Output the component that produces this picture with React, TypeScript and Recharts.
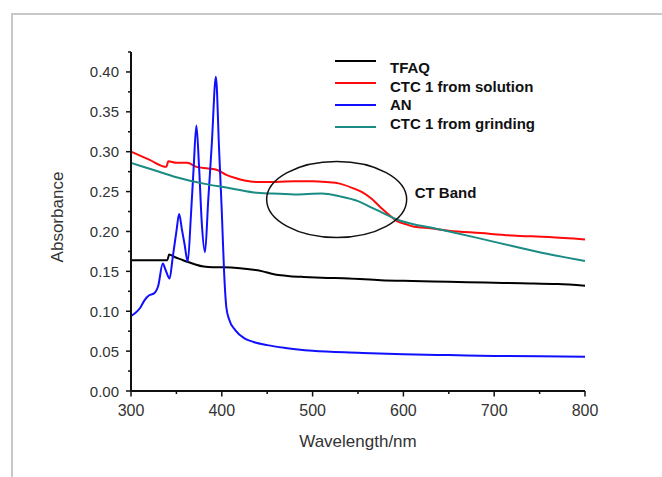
import { Legend, Line, LineChart, ReferenceDot, XAxis, YAxis } from 'recharts';

// wavelength (nm) / absorbance pairs
const tfaqX = [300, 320, 338, 340, 342, 348, 355, 362, 370, 380, 390, 402, 420, 435, 445, 455, 465, 475, 490, 510, 540, 575, 610, 650, 690, 730, 770, 800];
const tfaqY = [0.164, 0.164, 0.164, 0.164, 0.171, 0.168, 0.165, 0.162, 0.159, 0.156, 0.155, 0.155, 0.154, 0.152, 0.15, 0.147, 0.145, 0.144, 0.143, 0.142, 0.141, 0.139, 0.138, 0.137, 0.136, 0.135, 0.134, 0.132];

const solutionX = [300, 320, 339, 341, 350, 362, 372, 385, 395, 405, 415, 425, 440, 460, 480, 500, 515, 530, 545, 555, 565, 575, 585, 593, 603, 612, 630, 650, 685, 720, 760, 800];
const solutionY = [0.3, 0.29, 0.281, 0.288, 0.286, 0.286, 0.281, 0.279, 0.277, 0.271, 0.267, 0.264, 0.262, 0.262, 0.263, 0.263, 0.262, 0.26, 0.254, 0.249, 0.241, 0.23, 0.22, 0.213, 0.209, 0.206, 0.204, 0.201, 0.198, 0.195, 0.193, 0.19];

const anX = [300, 305, 310, 315, 320, 325, 330, 335, 338, 342.5, 346, 350, 353, 356, 359, 362.5, 366, 369, 372, 375, 378, 381.5, 385, 389, 393.5, 397, 400, 402.5, 405, 408, 415, 425, 435, 450, 470, 500, 550, 600, 650, 700, 750, 800];
const anY = [0.094, 0.098, 0.104, 0.114, 0.12, 0.122, 0.132, 0.16, 0.152, 0.141, 0.168, 0.2, 0.222, 0.203, 0.184, 0.162, 0.22, 0.28, 0.333, 0.28, 0.21, 0.174, 0.238, 0.31, 0.394, 0.303, 0.225, 0.15, 0.105, 0.09, 0.076, 0.066, 0.0615, 0.0575, 0.054, 0.0505, 0.048, 0.046, 0.045, 0.044, 0.0435, 0.043];

const grindingX = [300, 325, 350, 380, 405, 435, 455, 480, 495, 510, 530, 550, 565, 575, 593, 611, 630, 648, 685, 721, 758, 800];
const grindingY = [0.286, 0.277, 0.268, 0.26, 0.255, 0.249, 0.2475, 0.2465, 0.247, 0.2475, 0.244, 0.238, 0.23, 0.2245, 0.215, 0.209, 0.205, 0.2006, 0.191, 0.1814, 0.172, 0.163];

const xTicks = [300, 350, 400, 450, 500, 550, 600, 650, 700, 750, 800];
const yTicks = [0, 0.025, 0.05, 0.075, 0.1, 0.125, 0.15, 0.175, 0.2, 0.225, 0.25, 0.275, 0.3, 0.325, 0.35, 0.375, 0.4, 0.425];

// CT band annotation centre (nm, absorbance)
const bandX = 526.5;
const bandY = 0.24;

const toPoints = (xs: number[], ys: number[]) => xs.map((x, i) => ({ x, y: ys[i] }));

const series = [
    { name: 'TFAQ', color: '#000000', data: toPoints(tfaqX, tfaqY) },
    { name: 'CTC 1 from solution', color: '#ff0a0a', data: toPoints(solutionX, solutionY) },
    { name: 'AN', color: '#1010ff', data: toPoints(anX, anY) },
    { name: 'CTC 1 from grinding', color: '#1a8c84', data: toPoints(grindingX, grindingY) },
];
const seriesOrder = series.map((s) => s.name);

const FONT = '"Liberation Sans", Arial, sans-serif';
const AXIS = '#111';

const YTick = ({ x, y, payload }: any) => {
    const v = payload.value as number;
    const major = Math.round(v * 1000) % 50 === 0 && v <= 0.4;
    return (
        <g>
            <line x1={x} x2={x - (major ? 5 : 3)} y1={y} y2={y} stroke={AXIS} strokeWidth={1.5} />
            {major && (
                <text x={x - 12} y={y} textAnchor="end" dominantBaseline="central" fontSize={15} fontFamily={FONT} fill="#333">
                    {v.toFixed(2)}
                </text>
            )}
        </g>
    );
};

const XTick = ({ x, y, payload }: any) => {
    const v = payload.value as number;
    const major = v % 100 === 0;
    return (
        <g>
            <line x1={x} x2={x} y1={y} y2={y + (major ? 5.5 : 3)} stroke={AXIS} strokeWidth={1.5} />
            {major && (
                <text x={x} y={y + 19} textAnchor="middle" dominantBaseline="central" fontSize={16} fontFamily={FONT} fill="#333">
                    {v}
                </text>
            )}
        </g>
    );
};

const YTitle = ({ viewBox }: any) => {
    const cx = viewBox.x + 57;
    const cy = viewBox.y + viewBox.height / 2 - 4.5;
    return (
        <text x={cx} y={cy} transform={`rotate(-90, ${cx}, ${cy})`} textAnchor="middle" dominantBaseline="central" fontSize={17} fontFamily={FONT} fill="#333">
            Absorbance
        </text>
    );
};

const XTitle = ({ viewBox }: any) => {
    const cx = viewBox.x + viewBox.width / 2;
    const cy = viewBox.y + 50;
    return (
        <text x={cx} y={cy} textAnchor="middle" dominantBaseline="central" fontSize={17} fontFamily={FONT} fill="#333">
            Wavelength/nm
        </text>
    );
};

const BandShape = ({ cx, cy }: any) => (
    <g>
        <ellipse cx={cx} cy={cy} rx={70} ry={38} fill="none" stroke="#111" strokeWidth={1.5} />
        <text x={cx + 78} y={cy - 7.5} dominantBaseline="central" fontSize={15} fontWeight="bold" fontFamily={FONT} fill="#111">
            CT Band
        </text>
    </g>
);

const lineTops = [11, 33, 55, 77];
const textTops = [8.5, 27.5, 46, 64.5];

const LegendBox = ({ payload }: any) => {
    const items = [...(payload || [])].sort((a: any, b: any) => seriesOrder.indexOf(a.value) - seriesOrder.indexOf(b.value));
    return (
        <div style={{ position: 'relative', width: 260, height: 90, fontFamily: FONT }}>
            {items.map((p: any, i: number) => (
                <div key={p.value}>
                    <div style={{ position: 'absolute', left: 0, top: lineTops[i] - 1.25, width: 41, height: 2.5, background: p.color }} />
                    <div style={{ position: 'absolute', left: 55, top: textTops[i], fontSize: 15, lineHeight: '17px', fontWeight: 'bold', color: '#111', whiteSpace: 'nowrap' }}>
                        {p.value}
                    </div>
                </div>
            ))}
        </div>
    );
};

export default function App() {
    return (
        <div style={{ position: 'absolute', left: 0, top: 0, width: 662, height: 477, background: '#fff', overflow: 'hidden' }}>
            <div style={{ position: 'absolute', left: 11, top: 13, width: 680, height: 500, border: '2px solid #c8c8c8' }} />
            <LineChart width={662} height={477} margin={{ top: 52, right: 77, bottom: 36, left: 0 }}>
                <XAxis
                    type="number"
                    dataKey="x"
                    domain={[300, 800]}
                    ticks={xTicks}
                    interval={0}
                    tickSize={0}
                    tickMargin={0}
                    height={50}
                    axisLine={{ stroke: AXIS, strokeWidth: 2 }}
                    tickLine={false}
                    tick={<XTick />}
                    label={<XTitle />}
                />
                <YAxis
                    type="number"
                    domain={[0, 0.425]}
                    ticks={yTicks}
                    interval={0}
                    tickSize={0}
                    tickMargin={0}
                    width={131}
                    axisLine={{ stroke: AXIS, strokeWidth: 2 }}
                    tickLine={false}
                    tick={<YTick />}
                    label={<YTitle />}
                />
                <Legend
                    layout="vertical"
                    align="center"
                    verticalAlign="middle"
                    content={<LegendBox />}
                    wrapperStyle={{ left: 335, top: 50, width: 260 }}
                />
                {series.map((s) => (
                    <Line
                        key={s.name}
                        data={s.data}
                        dataKey="y"
                        name={s.name}
                        type="monotone"
                        stroke={s.color}
                        strokeWidth={2}
                        dot={false}
                        isAnimationActive={false}
                    />
                ))}
                <ReferenceDot x={bandX} y={bandY} shape={<BandShape />} />
            </LineChart>
        </div>
    );
}
